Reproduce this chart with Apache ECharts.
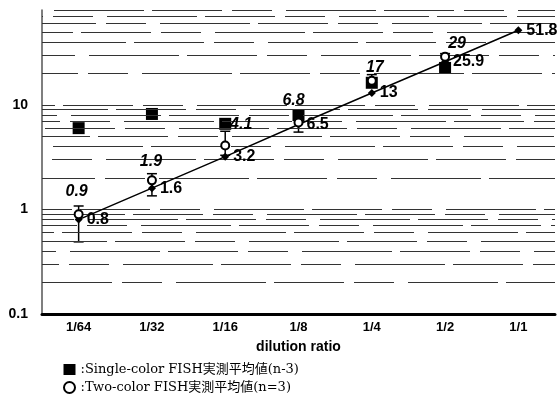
<!DOCTYPE html>
<html><head><meta charset="utf-8">
<script src="https://cdn.jsdelivr.net/npm/echarts@6/dist/echarts.min.js"></script>
<style>html,body{margin:0;padding:0;background:#fff}#c{width:560px;height:401px}</style>
</head><body><div id="c"></div>
<script>
var categories = ['1/64','1/32','1/16','1/8','1/4','1/2','1/1'];
var singleColor = [6.0, 8.2, 6.6, 8.0, 16.3, 22.6, null];
var twoColor = [0.9, 1.9, 4.1, 6.8, 17, 29, null];
var twoColorLow = [0.49, 1.35, 3.3, 5.5, 15, 23, null];
var twoColorHigh = [1.08, 2.2, 5.6, 8.0, 19.5, 31, null];
var theoretical = [0.8, 1.6, 3.2, 6.5, 13, 25.9, 51.8];
var gridValues = [0.2,0.3,0.4,0.5,0.6,0.7,0.8,0.9,1,2,3,4,5,6,7,8,9,10,20,30,40,50,60,70,80];
var yTicks = ['0.1','1','10'];
var nameSingle = ':Single-color FISH実測平均値(n-3)';
var nameTwo = ':Two-color FISH実測平均値(n=3)';

var twoLabelOffsets = [[-2,-2],[-1,2],[16,0],[-5,-1],[3,8],[12,8],[0,0]];

var chart = echarts.init(document.getElementById('c'), null, {renderer:'canvas'});

chart.setOption({
  animation:false,
  backgroundColor:'#fff',
  grid:{left:42, right:5, top:10, bottom:87},
  legend:{
    orient:'vertical', left:58, top:358, itemGap:5, itemWidth:12, itemHeight:11,
    textStyle:{fontFamily:'"DejaVu Serif", "Noto Sans CJK JP", serif', fontSize:13, color:'#000'},
    data:[{name:nameSingle, icon:'rect'},{name:nameTwo, icon:'circle'}]
  },
  xAxis:{
    type:'category', data:categories, boundaryGap:true,
    name:'dilution ratio', nameLocation:'middle', nameGap:26,
    nameTextStyle:{fontFamily:'Liberation Sans, Arial, sans-serif', fontWeight:'bold', fontSize:14, color:'#000'},
    axisLine:{lineStyle:{color:'#000', width:3}},
    axisTick:{show:false},
    axisLabel:{fontFamily:'Liberation Sans, Arial, sans-serif', fontWeight:'bold', fontSize:13, color:'#000', margin:7},
    splitLine:{show:false}
  },
  yAxis:{
    type:'log', logBase:10, min:0.1, max:81,
    axisLine:{show:true, lineStyle:{color:'#555', width:1.5}},
    axisTick:{show:false},
    splitLine:{show:false},
    axisLabel:{
      fontFamily:'Liberation Sans, Arial, sans-serif', fontWeight:'bold', fontSize:14, color:'#000', margin:14,
      formatter:function(v){
        var l = Math.log10(v), r = Math.round(l);
        if (Math.abs(l-r) > 1e-6) return '';
        var s = r < 0 ? '0.1' : String(Math.pow(10, r));
        return yTicks.indexOf(s) >= 0 ? s : '';
      }
    }
  },
  series:[
    {
      type:'line', name:'grid', data:[], silent:true,
      markLine:{
        silent:true, symbol:'none', label:{show:false},
        lineStyle:{color:'#333', width:1, type:[70,10,40,14,90,8]},
        data: gridValues.map(function(v,i){ return {yAxis:v, lineStyle:{dashOffset:(i*53)%230}}; })
      }
    },
    {
      type:'scatter', name:nameSingle, data:singleColor, symbol:'rect', symbolSize:12, z:3,
      itemStyle:{color:'#000', opacity:1}
    },
    {
      type:'custom', name:'err', z:4, silent:true,
      data: twoColorLow.map(function(lo,i){ return [i, lo, twoColorHigh[i]]; }).filter(function(d){return d[1]!=null;}),
      renderItem:function(params, api){
        var lo = api.coord([api.value(0), api.value(1)]);
        var hi = api.coord([api.value(0), api.value(2)]);
        var w = 5;
        var st = {stroke:'#000', lineWidth:1.5};
        return {type:'group', children:[
          {type:'line', shape:{x1:lo[0], y1:lo[1], x2:hi[0], y2:hi[1]}, style:st},
          {type:'line', shape:{x1:lo[0]-w, y1:lo[1], x2:lo[0]+w, y2:lo[1]}, style:st},
          {type:'line', shape:{x1:hi[0]-w, y1:hi[1], x2:hi[0]+w, y2:hi[1]}, style:st}
        ]};
      }
    },
    {
      type:'line', name:'theory', data:theoretical, symbol:'diamond', symbolSize:8, z:5,
      lineStyle:{color:'#000', width:1.5}, itemStyle:{color:'#000'},
      label:{show:true, position:'right', distance:4, fontFamily:'Liberation Sans, Arial, sans-serif', fontWeight:'bold', fontSize:16, color:'#000'}
    },
    {
      type:'scatter', name:nameTwo, symbol:'circle', symbolSize:8, z:6,
      itemStyle:{color:'#fff', borderColor:'#000', borderWidth:2, opacity:1},
      data: twoColor.map(function(v,i){
        return {value:v, label:{offset:twoLabelOffsets[i]}};
      }),
      label:{show:true, position:'top', distance:8,
        fontFamily:'Liberation Sans, Arial, sans-serif', fontWeight:'bold', fontStyle:'italic', fontSize:16, color:'#000'}
    }
  ]
});
</script></body></html>
